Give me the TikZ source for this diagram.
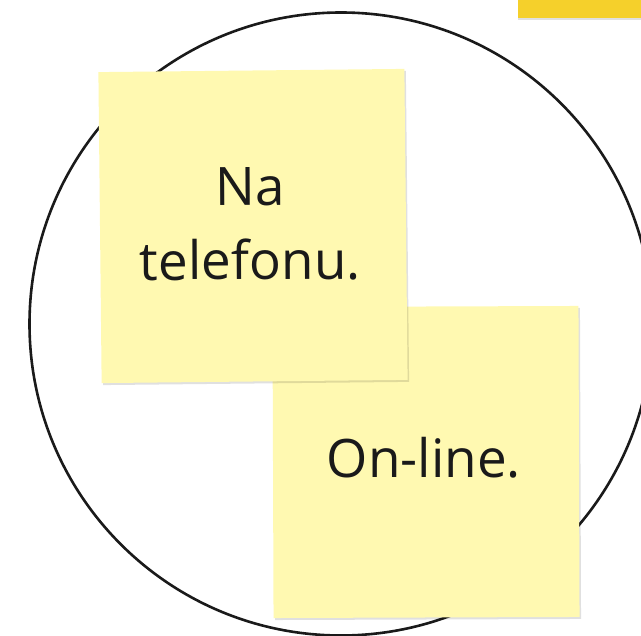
\documentclass[tikz,border=0pt]{standalone}
\usepackage{fontspec}
\setmainfont{Open Sans}
\usetikzlibrary{shadows}
\definecolor{notefill}{HTML}{FFF9B1}
\definecolor{barfill}{HTML}{F5D02B}
\definecolor{ink}{HTML}{1A1A1A}
\tikzset{
  note/.style={fill=notefill, draw=none, inner sep=0pt, minimum width=306pt, minimum height=311pt,
    drop shadow={shadow xshift=1.5pt, shadow yshift=-2pt, opacity=0.12, fill=black}},
  notetext/.style={text=ink, font=\fontsize{53}{74}\selectfont, align=center, inner sep=0pt},
}
\begin{document}
\begin{tikzpicture}[x=1pt,y=-1pt]
\useasboundingbox (0,0) rectangle (641,636);
\fill[white] (0,0) rectangle (641,636);
\node[fill=barfill, inner sep=0pt, minimum width=123pt, minimum height=18pt, anchor=north west,
  drop shadow={shadow xshift=0pt, shadow yshift=-2pt, opacity=0.12, fill=black}] (bar) at (518,0) {};
\node[draw=ink, line width=2.6pt, circle, minimum size=623pt, inner sep=0pt] (ring) at (341,324) {};
\node[note, rotate=0.2] (online) at (426,462) {};
\node[notetext] (onlinetext) at (424,458) {On-line.};
\node[note, rotate=0.6] (phone) at (253,226) {};
\node[notetext, rotate=0.3] (phonetext) at (250,224) {Na\\telefonu.};
\end{tikzpicture}
\end{document}
